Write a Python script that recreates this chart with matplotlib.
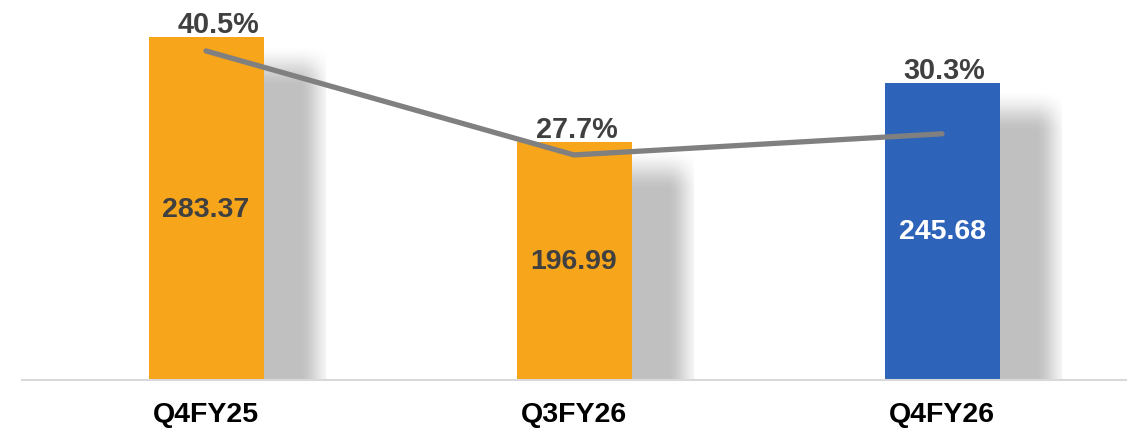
import matplotlib
matplotlib.use('Agg')
import matplotlib.pyplot as plt
import numpy as np

# ---- data ----
categories = ['Q4FY25', 'Q3FY26', 'Q4FY26']
revenue = [283.37, 196.99, 245.68]          # bar values
margin_pct = [40.5, 27.7, 30.3]             # line values (%)
bar_colors = ['#F7A51B', '#F7A51B', '#2E63BA']
value_text_colors = ['#404040', '#404040', '#FFFFFF']

plt.rcParams['font.family'] = ['Liberation Sans', 'DejaVu Sans']

W, H = 1129, 435
fig = plt.figure(figsize=(W / 100, H / 100), dpi=100)
ax = fig.add_axes([22 / W, (H - 381) / H, 1104 / W, 381 / H])

x = np.arange(len(categories))
bw = 0.3125
ymax = 381 / 1.2104          # 1.2104 px per unit
ax.set_xlim(-0.5, 2.5)
ax.set_ylim(0, ymax)

# px -> data helpers
px_x = 1.0 / 368
px_y = 1.0 / 1.2104


def ramp(t):
    t = np.clip(t, 0, 1)
    return t * t * (3 - 2 * t)


# soft drop shadows behind the bars (blurred box as an image)
for xi, v in zip(x, revenue):
    left = xi - bw / 2 + 10 * px_x
    right = xi + bw / 2 + 62 * px_x
    top = v - 6 * px_y
    nx, ny = 80, 200
    gx = np.linspace(0, 1, nx)
    xs_px = (gx * (right - left)) / px_x            # px from left
    fx = 1 - ramp((xs_px - (bw / px_x + 10 + 16)) / 36)
    ys = np.linspace(top, 0, ny)                     # image rows, top first
    fy = ramp(((top - ys) / px_y) / 44)
    alpha = 0.25 * np.outer(fy, fx)
    img = np.zeros((ny, nx, 4))
    img[..., 3] = alpha
    ax.imshow(img, extent=(left, right, 0, top), aspect='auto',
              interpolation='bilinear', zorder=1)

ax.bar(x, revenue, width=bw, color=bar_colors, linewidth=0, zorder=2)

for xi, v, c in zip(x, revenue, value_text_colors):
    ax.text(xi, v / 2, f'{v:.2f}', ha='center', va='center',
            fontsize=20.5, fontweight='bold', color=c, zorder=5)

nudge = [13, 3, 2]
for xi, v, p, dx in zip(x, revenue, margin_pct, nudge):
    ax.annotate(f'{p:.1f}%', (xi, v), xytext=(dx * 0.72, 3.6),
                textcoords='offset points', ha='center', va='baseline',
                fontsize=20.8, fontweight='bold', color='#404040', zorder=5)

ax.set_xlim(-0.5, 2.5)
ax.set_ylim(0, ymax)

for side in ['top', 'right', 'left']:
    ax.spines[side].set_visible(False)
ax.spines['bottom'].set_color('#D9D9D9')
ax.spines['bottom'].set_linewidth(1.5)
ax.spines['bottom'].set_zorder(3)
ax.set_yticks([])
ax.set_xticks(x)
ax.set_xticklabels(categories, fontsize=20.5, fontweight='bold', color='black')
ax.tick_params(axis='x', length=0, pad=15)

# margin line on secondary axis
ax2 = ax.twinx()
ax2.set_ylim(0, 381 / 8.125)
ax2.plot(x, margin_pct, color='#808080', linewidth=3.8,
         solid_capstyle='round', solid_joinstyle='round', zorder=4)
ax2.set_yticks([])
for side in ['top', 'right', 'left', 'bottom']:
    ax2.spines[side].set_visible(False)

fig.savefig('out.png', dpi=100)
